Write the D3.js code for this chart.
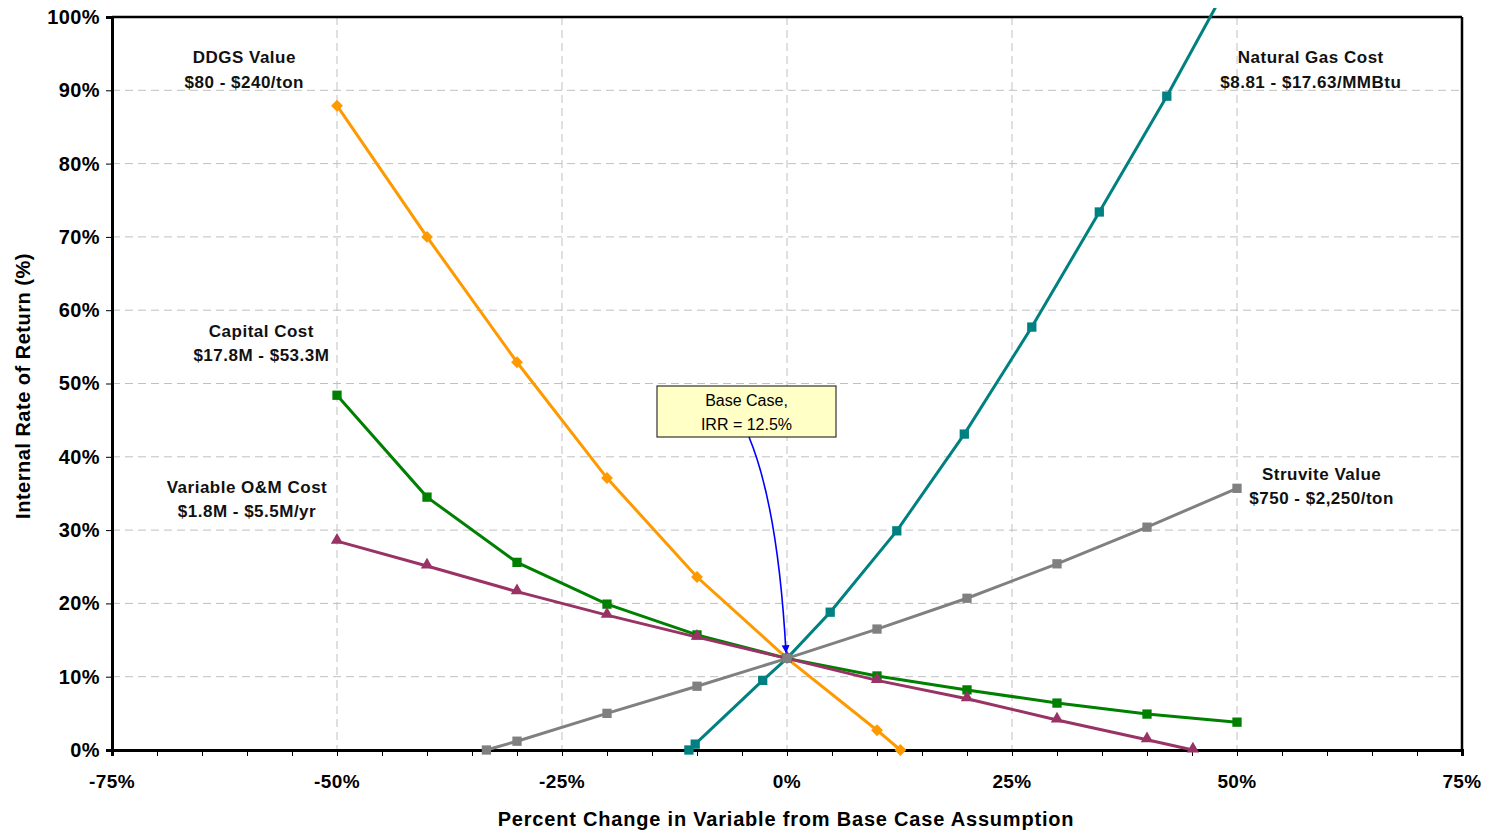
<!DOCTYPE html>
<html>
<head>
<meta charset="utf-8">
<script src="https://cdn.jsdelivr.net/npm/d3@7"></script>
<style>
  html, body { margin: 0; padding: 0; background: #fff; }
  svg { display: block; font-family: Arial, "Liberation Sans", sans-serif; }
</style>
</head>
<body>
<svg id="chart" width="1491" height="833"></svg>
<script>
// Sensitivity of IRR to each input variable (x = % change, y = IRR %)
const ddgsX = [-50, -40, -30, -20, -10, 0, 10, 12.6];
const ddgsY = [87.9, 70.0, 52.9, 37.1, 23.6, 12.5, 2.7, 0];

const gasX = [-10.9, -10.2, -2.7, 0, 4.8, 12.2, 19.7, 27.2, 34.7, 42.2, 49.7];
const gasY = [0, 0.8, 9.5, 12.5, 18.8, 29.9, 43.1, 57.7, 73.4, 89.2, 106.0];

const capitalX = [-50, -40, -30, -20, -10, 0, 10, 20, 30, 40, 50];
const capitalY = [48.4, 34.5, 25.6, 19.9, 15.7, 12.5, 10.1, 8.2, 6.4, 4.9, 3.8];

const omX = [-50, -40, -30, -20, -10, 0, 10, 20, 30, 40, 45.1];
const omY = [28.5, 25.1, 21.6, 18.4, 15.4, 12.5, 9.5, 7.0, 4.1, 1.4, 0];

const struviteX = [-33.4, -30, -20, -10, 0, 10, 20, 30, 40, 50];
const struviteY = [0, 1.2, 5.0, 8.7, 12.5, 16.5, 20.7, 25.4, 30.4, 35.7];

const xTicks = [-75, -50, -25, 0, 25, 50, 75];
const xMinorTicks = d3.range(-75, 76, 5);
const yTicks = [0, 10, 20, 30, 40, 50, 60, 70, 80, 90, 100];

const baseCase = { x: 0, y: 12.5 };

const series = [
  { name: "DDGS", xs: ddgsX, ys: ddgsY, color: "#FF9900", marker: "diamond",
    label: ["DDGS Value", "$80 - $240/ton"], lx: -60.3, ly: 93.7 },
  { name: "Gas", xs: gasX, ys: gasY, color: "#008080", marker: "square",
    label: ["Natural Gas Cost", "$8.81 - $17.63/MMBtu"], lx: 58.2, ly: 93.7 },
  { name: "Capital", xs: capitalX, ys: capitalY, color: "#008000", marker: "square",
    label: ["Capital Cost", "$17.8M - $53.3M"], lx: -58.4, ly: 56.4 },
  { name: "OM", xs: omX, ys: omY, color: "#993366", marker: "triangle",
    label: ["Variable O&M Cost", "$1.8M - $5.5M/yr"], lx: -60.0, ly: 35.1 },
  { name: "Struvite", xs: struviteX, ys: struviteY, color: "#808080", marker: "square",
    label: ["Struvite Value", "$750 - $2,250/ton"], lx: 59.4, ly: 36.9 }
];

const svg = d3.select("#chart");
const pLeft = 112, pRight = 1462, pTop = 17, pBottom = 750;

const x = d3.scaleLinear().domain([-75, 75]).range([pLeft, pRight]);
const y = d3.scaleLinear().domain([0, 100]).range([pBottom, pTop]);

// dashed grid
const grid = svg.append("g");
grid.selectAll("line.h").data(yTicks.filter(d => d > 0 && d < 100)).join("line")
  .attr("class", "h")
  .attr("x1", pLeft).attr("x2", pRight)
  .attr("y1", d => y(d)).attr("y2", d => y(d))
  .attr("stroke", "#c0c0c0").attr("stroke-width", 1).attr("stroke-dasharray", "8,5");
grid.selectAll("line.v").data(xTicks.filter(d => d > -75 && d < 75)).join("line")
  .attr("class", "v")
  .attr("y1", pTop).attr("y2", pBottom)
  .attr("x1", d => x(d)).attr("x2", d => x(d))
  .attr("stroke", "#c0c0c0").attr("stroke-width", 1).attr("stroke-dasharray", "8,5");

// plot frame (top and right)
svg.append("line").attr("x1", pLeft).attr("x2", pRight).attr("y1", pTop).attr("y2", pTop)
  .attr("stroke", "#000").attr("stroke-width", 2.5);
svg.append("line").attr("x1", pRight).attr("x2", pRight).attr("y1", pTop).attr("y2", pBottom)
  .attr("stroke", "#000").attr("stroke-width", 2.5);

// axes
const xAxis = svg.append("g").attr("transform", `translate(0,${pBottom})`)
  .call(d3.axisBottom(x).tickValues(xMinorTicks).tickSize(6).tickFormat(""));
xAxis.select(".domain").attr("stroke-width", 3);
xAxis.selectAll(".tick line").attr("stroke-width", 1);

svg.append("g").selectAll("text").data(xTicks).join("text")
  .attr("x", d => x(d)).attr("y", 788)
  .attr("text-anchor", "middle")
  .attr("font-size", 19).attr("font-weight", "bold").attr("letter-spacing", 0.4)
  .text(d => d + "%");

const yAxis = svg.append("g").attr("transform", `translate(${pLeft},0)`)
  .call(d3.axisLeft(y).tickValues(yTicks).tickSize(6).tickFormat(d => d + "%"));
yAxis.select(".domain").attr("stroke-width", 3);
yAxis.selectAll(".tick text").attr("font-size", 20).attr("font-weight", "bold")
  .attr("font-family", "Arial, 'Liberation Sans', sans-serif").attr("fill", "#000")
  .attr("letter-spacing", 0.4).attr("x", -12);

// axis titles
svg.append("text").attr("x", 786).attr("y", 826).attr("text-anchor", "middle")
  .attr("font-size", 20).attr("font-weight", "bold").attr("letter-spacing", 0.8)
  .text("Percent Change in Variable from Base Case Assumption");
svg.append("text").attr("transform", "translate(30,386) rotate(-90)")
  .attr("text-anchor", "middle").attr("font-size", 20).attr("font-weight", "bold")
  .attr("letter-spacing", 0.5)
  .text("Internal Rate of Return (%)");

// clip region for lines (slightly taller than plot)
svg.append("clipPath").attr("id", "plotclip").append("rect")
  .attr("x", pLeft - 10).attr("y", 8).attr("width", pRight - pLeft + 20).attr("height", pBottom - 8 + 10);

const lineGen = d3.line().x(d => x(d[0])).y(d => y(d[1]));

const symbolFor = m => m === "diamond" ? d3.symbol().type(d3.symbolDiamond2).size(90)
  : m === "triangle" ? d3.symbol().type(d3.symbolTriangle2).size(110)
  : d3.symbol().type(d3.symbolSquare2).size(110);

series.forEach(s => {
  const pts = s.xs.map((v, i) => [v, s.ys[i]]);
  const g = svg.append("g").attr("clip-path", "url(#plotclip)");
  g.append("path").datum(pts).attr("d", lineGen)
    .attr("fill", "none").attr("stroke", s.color).attr("stroke-width", 3);
  g.selectAll("path.m").data(pts.filter(p => p[1] <= 100)).join("path")
    .attr("class", "m")
    .attr("transform", p => `translate(${x(p[0])},${y(p[1]) + (s.marker === "triangle" ? -1 : 0)})`)
    .attr("d", symbolFor(s.marker))
    .attr("fill", s.color);
});

// series labels
series.forEach(s => {
  const t = svg.append("text").attr("text-anchor", "middle")
    .attr("font-size", 17).attr("font-weight", "bold").attr("fill", "#111")
    .attr("letter-spacing", 0.5);
  t.append("tspan").attr("x", x(s.lx)).attr("y", y(s.ly)).text(s.label[0]);
  t.append("tspan").attr("x", x(s.lx)).attr("dy", 24.5).text(s.label[1]);
});

// base case callout
const bx = 657, by = 386, bw = 179, bh = 51;
svg.append("rect").attr("x", bx).attr("y", by).attr("width", bw).attr("height", bh)
  .attr("fill", "#FFFFC6").attr("stroke", "#333").attr("stroke-width", 1.2);
const ct = svg.append("text").attr("text-anchor", "middle").attr("font-size", 16).attr("fill", "#000");
ct.append("tspan").attr("x", bx + bw / 2).attr("y", by + 20).text("Base Case,");
ct.append("tspan").attr("x", bx + bw / 2).attr("dy", 24).text("IRR = " + baseCase.y + "%");

svg.append("defs").append("marker").attr("id", "arrow")
  .attr("viewBox", "0 0 10 10").attr("refX", 9).attr("refY", 5)
  .attr("markerWidth", 5).attr("markerHeight", 6).attr("orient", "auto")
  .append("path").attr("d", "M0,0 L10,5 L0,10 Z").attr("fill", "#0000FF");

const ax0 = 749, ay0 = by + bh;
const ax1 = x(baseCase.x) - 1, ay1 = y(baseCase.y) - 6;
svg.append("path")
  .attr("d", `M${ax0},${ay0} Q${778},${ay0 + 70} ${ax1},${ay1}`)
  .attr("fill", "none").attr("stroke", "#0000FF").attr("stroke-width", 1.6)
  .attr("marker-end", "url(#arrow)");
</script>
</body>
</html>
